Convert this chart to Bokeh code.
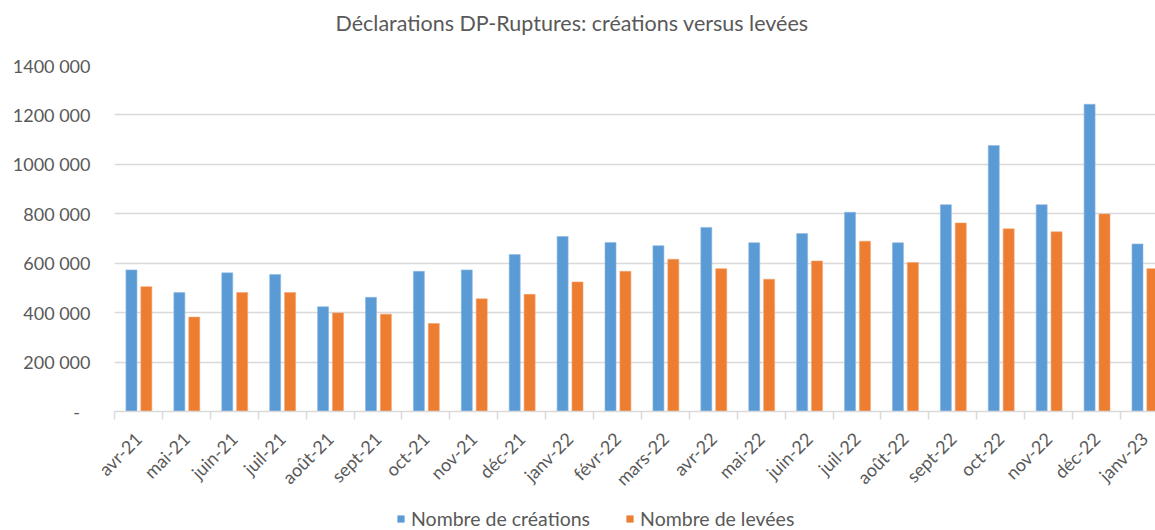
import math
from bokeh.plotting import figure
from bokeh.layouts import column
from bokeh.models import (ColumnDataSource, Range1d, FixedTicker, Legend,
                          LegendItem, Title)
from bokeh.transform import dodge
from bokeh.embed import file_html
from bokeh.resources import INLINE

# ---- data ----
months = ["avr-21", "mai-21", "juin-21", "juil-21", "août-21", "sept-21",
          "oct-21", "nov-21", "déc-21", "janv-22", "févr-22", "mars-22",
          "avr-22", "mai-22", "juin-22", "juil-22", "août-22", "sept-22",
          "oct-22", "nov-22", "déc-22", "janv-23"]
creations = [573000, 481000, 561000, 554000, 424000, 462000, 567000, 573000,
             635000, 708000, 684000, 671000, 745000, 683000, 720000, 806000,
             683000, 837000, 1076000, 837000, 1243000, 678000]
levees = [505000, 382000, 481000, 481000, 399000, 394000, 356000, 456000,
          474000, 524000, 567000, 616000, 578000, 535000, 609000, 689000,
          603000, 763000, 739000, 727000, 799000, 578000]
y_ticks = [0, 200000, 400000, 600000, 800000, 1000000, 1200000, 1400000]
y_tick_labels = ["-\u2007", "200 000", "400 000", "600 000", "800 000",
                 "1000 000", "1200 000", "1400 000"]
series_names = ["Nombre de créations", "Nombre de levées"]
series_colors = ["#5B9BD5", "#ED7D31"]
title_text = "Déclarations DP-Ruptures: créations versus levées"

FONT = "Lato"
GREY = "#595959"
GRID = "#d9d9d9"

idx = list(range(len(months)))
src = ColumnDataSource(dict(x=idx, creations=creations, levees=levees))

p = figure(width=1155, height=500, output_backend="svg", toolbar_location=None,
           x_range=Range1d(-0.5, 21.23), y_range=Range1d(0, 1400000),
           min_border_left=114, min_border_right=0, min_border_top=65,
           min_border_bottom=88)
p.title = None
p.outline_line_color = None
p.background_fill_color = "white"
p.border_fill_color = "white"

# spacer between frame and title, then the title itself
spacer = Title(text=" ", text_font_size="10px", standoff=17)
p.add_layout(spacer, "above")
t = Title(text=title_text, align="left", offset=221, standoff=0,
          text_font=FONT, text_font_size="21.5px", text_font_style="normal",
          text_color=GREY)
p.add_layout(t, "above")

p.vbar(x=dodge("x", -0.146, range=p.x_range), top="creations", width=0.23,
       source=src, fill_color=series_colors[0], line_color="#8fb8e2",
       line_width=0.6)
p.vbar(x=dodge("x", 0.165, range=p.x_range), top="levees", width=0.23,
       source=src, fill_color=series_colors[1], line_color="#f2a271",
       line_width=0.6)

# x axis
p.xaxis.ticker = FixedTicker(ticks=idx,
                             minor_ticks=[i - 0.5 for i in idx])
p.xaxis.major_label_overrides = {i: m for i, m in zip(idx, months)}
p.xaxis.major_tick_out = 0
p.xaxis.major_tick_in = 0
p.xaxis.minor_tick_out = 8
p.xaxis.minor_tick_in = 0
p.xaxis.minor_tick_line_color = GRID
p.xaxis.minor_tick_line_width = 1.5
p.xaxis.axis_line_color = GRID
p.xaxis.axis_line_width = 1.5
p.xaxis.major_label_orientation = math.pi / 4
p.xaxis.major_label_standoff = 16
p.xaxis.major_label_text_font = FONT
p.xaxis.major_label_text_font_size = "18px"
p.xaxis.major_label_text_color = GREY
p.xgrid.grid_line_color = None

# y axis
p.yaxis.ticker = FixedTicker(ticks=y_ticks)
p.yaxis.major_label_overrides = {v: s for v, s in zip(y_ticks, y_tick_labels)}
p.yaxis.axis_line_color = None
p.yaxis.major_tick_line_color = None
p.yaxis.minor_tick_line_color = None
p.yaxis.major_tick_out = 0
p.yaxis.major_label_standoff = 24
p.yaxis.major_label_text_font = FONT
p.yaxis.major_label_text_font_size = "18px"
p.yaxis.major_label_text_color = GREY
p.ygrid.grid_line_color = GRID
p.ygrid.grid_line_width = 1.5

# ---- legend strip below the chart ----
lg = figure(width=1155, height=30, output_backend="svg", toolbar_location=None,
            x_range=Range1d(0, 1), y_range=Range1d(0, 1), min_border=0)
lg.title = None
lg.outline_line_color = None
lg.axis.visible = False
lg.grid.visible = False
# zero-height swatch renderers: only the legend swatch is visible
lr = [lg.vbar(x=[0.5], top=[0], bottom=[0], width=0.01, fill_color=c,
              line_color=None)
      for c in series_colors]
legend = Legend(items=[LegendItem(label=n, renderers=[r])
                       for n, r in zip(series_names, lr)],
                orientation="horizontal", location=(282, 0),
                padding=0, margin=0, spacing=35, label_standoff=6,
                glyph_width=9, glyph_height=9,
                border_line_color=None, background_fill_alpha=0,
                label_text_font=FONT, label_text_font_size="19.5px",
                label_text_color=GREY)
lg.add_layout(legend, "center")

page = column(p, lg, spacing=0)
open("out.html", "w").write(file_html(page, INLINE))
